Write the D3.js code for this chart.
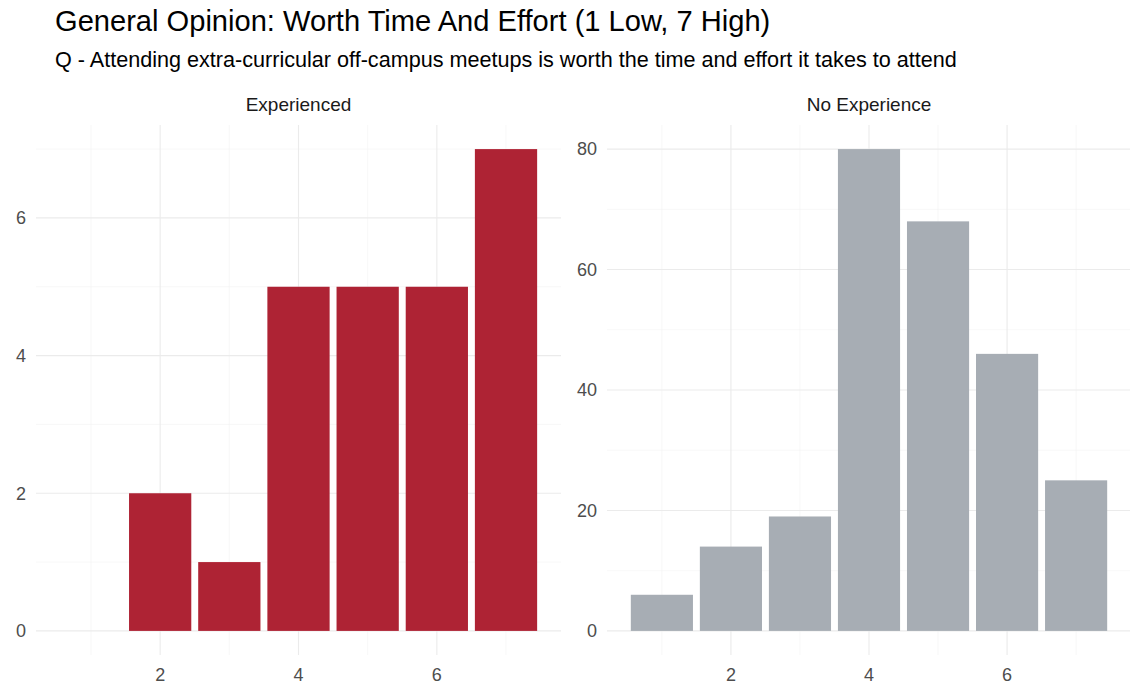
<!DOCTYPE html>
<html lang="en">
<head>
  <meta charset="UTF-8">
  <title>General Opinion: Worth Time And Effort</title>
  <script src="https://d3js.org/d3.v7.min.js"></script>
  <style>
    body {
      margin: 0;
      background: #fff;
      font-family: 'Liberation Sans', Arial, sans-serif;
    }
    .grid-major { stroke: #ebebeb; stroke-width: 1.1; }
    .grid-minor { stroke: #f3f3f3; stroke-width: 0.6; }
    .tick-label { font-size: 18px; fill: #4d4d4d; }
    .strip { font-size: 19px; fill: #1a1a1a; }
  </style>
</head>
<body>
<svg width="1130" height="687"></svg>
<script>
  // ratings on the 1-7 scale
  const ratings = [1, 2, 3, 4, 5, 6, 7];
  const experiencedCounts = [0, 2, 1, 5, 5, 5, 7];
  const noExperienceCounts = [6, 14, 19, 80, 68, 46, 25];

  const facets = [
    { name: "Experienced", counts: experiencedCounts, color: "#ae2334",
      yBreaks: [0, 2, 4, 6], yMinor: [1, 3, 5, 7] },
    { name: "No Experience", counts: noExperienceCounts, color: "#a7adb4",
      yBreaks: [0, 20, 40, 60, 80], yMinor: [10, 30, 50, 70] }
  ];
  const xBreaks = [2, 4, 6];
  const xMinor = [1, 3, 5, 7];

  const svg = d3.select("svg");

  svg.append("text")
    .attr("x", 55).attr("y", 31)
    .attr("font-size", "29.1px").attr("fill", "#000")
    .text("General Opinion: Worth Time And Effort (1 Low, 7 High)");

  svg.append("text")
    .attr("x", 55).attr("y", 67)
    .attr("font-size", "21.6px").attr("fill", "#000")
    .text("Q - Attending extra-curricular off-campus meetups is worth the time and effort it takes to attend");

  const panels = [
    { left: 36, right: 561 },
    { left: 607, right: 1131 }
  ];
  const panelTop = 125, panelBottom = 655;
  const barWidth = 0.9;

  facets.forEach((f, i) => {
    const p = panels[i];
    const lo = 1 - barWidth / 2, hi = 7 + barWidth / 2;
    const padX = (hi - lo) * 0.05;
    const x = d3.scaleLinear().domain([lo - padX, hi + padX]).range([p.left, p.right]);
    const yMax = d3.max(f.counts);
    const y = d3.scaleLinear().domain([-yMax * 0.05, yMax * 1.05]).range([panelBottom, panelTop]);

    const g = svg.append("g");

    // grid
    g.selectAll(".hmin").data(f.yMinor.filter(v => v <= yMax * 1.05)).join("line")
      .attr("class", "grid-minor")
      .attr("x1", p.left).attr("x2", p.right)
      .attr("y1", d => y(d)).attr("y2", d => y(d));
    g.selectAll(".vmin").data(xMinor).join("line")
      .attr("class", "grid-minor")
      .attr("y1", panelTop).attr("y2", panelBottom)
      .attr("x1", d => x(d)).attr("x2", d => x(d));
    g.selectAll(".hmaj").data(f.yBreaks).join("line")
      .attr("class", "grid-major")
      .attr("x1", p.left).attr("x2", p.right)
      .attr("y1", d => y(d)).attr("y2", d => y(d));
    g.selectAll(".vmaj").data(xBreaks).join("line")
      .attr("class", "grid-major")
      .attr("y1", panelTop).attr("y2", panelBottom)
      .attr("x1", d => x(d)).attr("x2", d => x(d));

    // bars
    g.selectAll("rect").data(ratings.map((r, j) => ({ r, v: f.counts[j] })).filter(d => d.v > 0))
      .join("rect")
      .attr("x", d => x(d.r - barWidth / 2))
      .attr("width", d => x(d.r + barWidth / 2) - x(d.r - barWidth / 2))
      .attr("y", d => y(d.v))
      .attr("height", d => y(0) - y(d.v))
      .attr("fill", f.color);

    // axis labels
    g.selectAll(".ylab").data(f.yBreaks).join("text")
      .attr("class", "tick-label")
      .attr("x", p.left - 10).attr("y", d => y(d)).attr("dy", "0.35em")
      .attr("text-anchor", "end")
      .text(d => d);
    g.selectAll(".xlab").data(xBreaks).join("text")
      .attr("class", "tick-label")
      .attr("x", d => x(d)).attr("y", 681)
      .attr("text-anchor", "middle")
      .text(d => d);

    // strip
    g.append("text")
      .attr("class", "strip")
      .attr("x", (p.left + p.right) / 2).attr("y", 111)
      .attr("text-anchor", "middle")
      .text(f.name);
  });
</script>
</body>
</html>
